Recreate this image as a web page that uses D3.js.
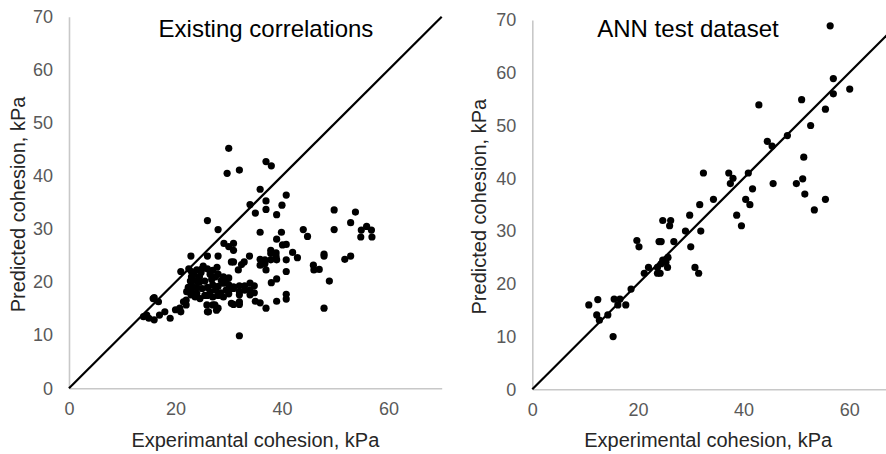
<!DOCTYPE html>
<html>
<head>
<meta charset="utf-8">
<script src="https://cdn.jsdelivr.net/npm/d3@7"></script>
<style>
  html, body { margin: 0; padding: 0; background: #fff; }
  svg { display: block; font-family: "Liberation Sans", Arial, sans-serif; }
</style>
</head>
<body>
<svg id="chart" width="886" height="454"></svg>
<script>
// ---------- data ----------
const panelTitles = ["Existing correlations", "ANN test dataset"];
const xTitles = ["Experimantal cohesion, kPa", "Experimental cohesion, kPa"];
const yTitle = "Predicted cohesion, kPa";
const xTicks = [0, 20, 40, 60];
const yTicks = [0, 10, 20, 30, 40, 50, 60, 70];
const axisMax = 70;

// Existing correlations: [experimental, predicted]
const existingPoints = [
  [30,45.2],[29.7,40.5],[32,41.1],[37,42.7],[38,41.9],[35.9,37.5],[34,34.6],[37,35.3],[37,33.7],[35,33],
  [39,32.7],[40,34.5],[40.8,36.4],[26,31.6],[28,29.9],[35.9,29.4],[39,28.1],[39.9,29.4],[44,29.9],[44.8,28.6],
  [49.8,33.6],[49.8,29.9],[53.8,33.2],[52.9,31.2],[55.9,30.5],[54.9,29.8],[56.8,29.8],[54.8,28.5],[56.9,28.5],
  [51.8,24.3],[52.9,24.9],[47.9,25.3],[47.9,24.9],[45.9,23.2],[46,22.3],[47,22.4],[48.9,20.2],[47.9,15.1],
  [42,25.6],[42.9,24.6],[40.8,27.1],[40.1,27],[40.8,24.2],[40.8,22],[39,20.6],[38,19.9],[39,16.4],[40.8,17.7],
  [40.8,16.8],[37.9,26],[37.9,25.4],[38.9,25.5],[38.9,24.8],[35.9,24.3],[36.8,24.2],[37.9,24.2],[35.9,23.2],
  [36.8,23.5],[39,24.2],[37,22.3],[33.9,24.9],[32.9,23.8],[32.4,23.3],[30.9,27.3],[30,26.7],[29.1,27.3],
  [30.9,26],[30.9,23.8],[31.8,22.3],[30.9,19.1],[32,19.3],[33,19.3],[34,19.8],[34.8,19.3],[34,18.5],[33,18.5],
  [32,18.2],[30.9,18.8],[32,17.6],[34,17.6],[34.8,18],[32,16.3],[30.9,15.8],[32,15.8],[35,16.4],[35.9,16.1],
  [37,15.1],[32,9.9],[26,24.9],[28,24.9],[22.9,24.9],[21,22],[26,14.4],[27,15.7],[28,15.1],
  [14,13.5],[14.6,13.8],[15,13.2],[16,12.9],[17,13.8],[18,14.4],[19,13.2],[20,14.8],[20.8,15.1],[21,14.4],
  [21.5,16.3],[22,16.6],[22,15.7],[15.8,16.9],[16.8,16.3],[16,17.1],[23,18.5],[22.9,17.6],[24,17.3],[24.6,16.9],
  [24,17.9],[22.1,18.2],[23.7,17.2],[25.9,15.7],[27.4,15.7],[26.2,14.4],[27.7,14.7],[30.5,18.8],[30.5,16],
  [22.5,22.5],[23,22],[23.5,21.5],[24,22.3],[24.5,21],[25,22.5],[23,21],[23.8,20.3],[24.5,20],[25.5,20.2],
  [26,22.5],[26.5,21.5],[27,22.2],[27.5,21],[28,21.5],[29,21],[30,20.8],[23,19.5],[24,19],[25,18.8],[26,19],
  [27,19.5],[28,19.2],[29,19.8],[30,19.5],[26.5,18.2],[27.5,18.5],[28.5,18],[29.5,18.5],[26,17.5],[27,17.2],
  [28,17.5],[29,17.2],[30,17.8],[25.5,17.5],[30.5,23.8],[22.8,20.2],[24.8,21.8],[26.8,20.5],[28.6,20.3],
  [25.2,23],[27.8,22.8],[29.5,20.2],[22.4,19]
];

// ANN test dataset: [experimental, predicted]
const annPoints = [
  [56.4,68.9],[57,58.9],[57,56],[60.1,56.9],[55.5,53.1],[51,54.9],[42.9,53.9],[52.7,50],[48.3,48.1],[44.5,47],
  [45.4,46.1],[51.4,44],[51.2,39.9],[50,39],[51.6,37],[55.5,36],[53.4,34],[45.6,39],[40.9,41],[41.7,38],
  [40.4,36],[41.2,35],[38.7,33],[39.6,31],[37.2,41],[38,40],[37.5,39],[34.3,36],[32.4,41],[31.7,35],
  [29.8,33],[31.9,30],[29,30],[30,27],[30.8,23.1],[31.5,22],[24.7,32],[26.2,32],[26,31],[26.8,28],
  [24,28],[24.4,28],[19.8,28.2],[20.2,27],[25.7,25],[25.3,24.1],[24.7,24.5],[24.4,23.8],[25.6,23.1],[23.7,23.1],
  [23.7,22],[24.2,22],[22,23.1],[21.2,22],[18.7,19],[10.7,16],[12.4,17],[12.2,14.1],[12.7,13.1],[14.3,14.1],
  [15.5,17.1],[16.6,17.1],[16.2,16],[17.7,16],[15.3,10]
];

const panelData = [existingPoints, annPoints];

// ---------- layout ----------
const panels = [
  { left: 69,    right: 441.7, bottom: 388.3, top: 16.7, titleX: 266, yTitleX: 25 },
  { left: 532.3, right: 902,   bottom: 389.3, top: 20,   titleX: 688, yTitleX: 486 }
];

const svg = d3.select("#chart");
svg.append("rect").attr("width", 886).attr("height", 454).attr("fill", "#fff");

panels.forEach((p, i) => {
  const x = d3.scaleLinear().domain([0, axisMax]).range([p.left, p.right]);
  const y = d3.scaleLinear().domain([0, axisMax]).range([p.bottom, p.top]);
  const g = svg.append("g");

  const xAxis = g.append("g")
    .attr("transform", `translate(0,${p.bottom})`)
    .call(d3.axisBottom(x).tickValues(xTicks).tickSize(0).tickPadding(14).tickFormat(d3.format("d")));
  const yAxis = g.append("g")
    .attr("transform", `translate(${p.left},0)`)
    .call(d3.axisLeft(y).tickValues(yTicks).tickSize(0).tickPadding(16).tickFormat(d3.format("d")));

  [xAxis, yAxis].forEach(a => {
    a.select(".domain").attr("stroke", "#c8c8c8").attr("stroke-width", 1.6);
    a.selectAll("text")
      .attr("fill", "#595959")
      .style("font-size", "18px")
      .style("font-family", "'Liberation Sans', Arial, sans-serif");
  });

  g.append("line")
    .attr("x1", x(0)).attr("y1", y(0))
    .attr("x2", x(axisMax)).attr("y2", y(axisMax))
    .attr("stroke", "#000").attr("stroke-width", 2.2);

  g.append("g").selectAll("circle")
    .data(panelData[i])
    .join("circle")
    .attr("cx", d => x(d[0]))
    .attr("cy", d => y(d[1]))
    .attr("r", 3.6)
    .attr("fill", "#000");

  g.append("text")
    .attr("x", p.titleX).attr("y", 37)
    .attr("text-anchor", "middle")
    .attr("fill", "#000")
    .style("font-size", "24px")
    .text(panelTitles[i]);

  g.append("text")
    .attr("x", (p.left + Math.min(p.right, 886)) / 2 + (i === 0 ? 0 : -1))
    .attr("y", 447)
    .attr("text-anchor", "middle")
    .attr("fill", "#262626")
    .style("font-size", "20px")
    .text(xTitles[i]);

  g.append("text")
    .attr("transform", `translate(${p.yTitleX},${(p.top + p.bottom) / 2 + 2}) rotate(-90)`)
    .attr("text-anchor", "middle")
    .attr("fill", "#262626")
    .style("font-size", "20px")
    .text(yTitle);
});
</script>
</body>
</html>
